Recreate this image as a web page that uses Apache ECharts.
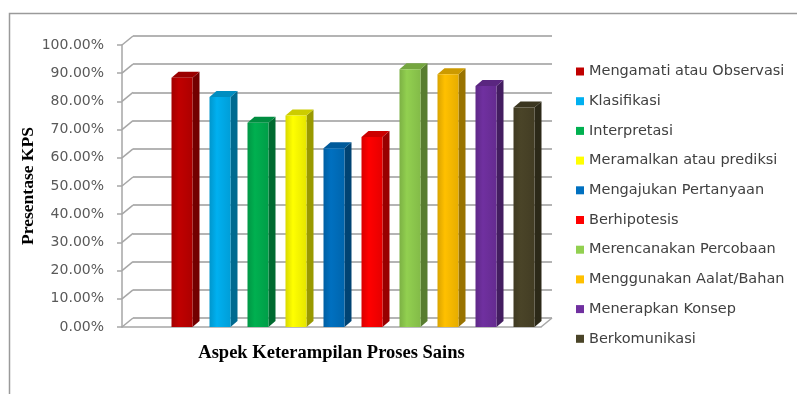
<!DOCTYPE html>
<html>
<head>
<meta charset="utf-8">
<script src="https://cdn.jsdelivr.net/npm/echarts@6/dist/echarts.min.js"></script>
<style>
html,body{margin:0;padding:0;background:#fff;}
#chart{width:797px;height:394px;}
</style>
</head>
<body>
<div id="chart"></div>
<script>
var aspects = ['Mengamati atau Observasi','Klasifikasi','Interpretasi','Meramalkan atau prediksi',
	'Mengajukan Pertanyaan','Berhipotesis','Merencanakan Percobaan','Menggunakan Aalat/Bahan',
	'Menerapkan Konsep','Berkomunikasi'];
var kpsValues = [88.4, 81.6, 72.4, 75.0, 63.4, 67.4, 91.4, 89.6, 85.5, 77.8];
var barColors = ['#c00000','#00b0f0','#00b050','#ffff00','#0070c0','#ff0000','#92d050','#ffc000','#7030a0','#4a4428'];
var yTicks = [0,10,20,30,40,50,60,70,80,90,100];

var DX = 7, DY = 6;      // bar depth
var WX = 11, WY = 9;     // wall depth

function shade(hex, k){
	var n = parseInt(hex.slice(1),16);
	var r = (n>>16)&255, g = (n>>8)&255, b = n&255;
	function f(c){ return Math.max(0,Math.min(255,Math.round(k<1 ? c*k : c+(255-c)*(k-1)))); }
	return 'rgb('+f(r)+','+f(g)+','+f(b)+')';
}

var myChart = echarts.init(document.getElementById('chart'));

var series = [];
aspects.forEach(function(name, i){
	series.push({
		name: name,
		type: 'custom',
		xAxisIndex: 0,
		yAxisIndex: 0,
		itemStyle: {color: barColors[i]},
		encode: {x: 0, y: 1},
		data: [[i, kpsValues[i]]],
		z: 10,
		renderItem: function(params, api){
			var base = api.coord([api.value(0), 0]);
			var top = api.coord([api.value(0), api.value(1)]);
			var w = 21;
			var x0 = base[0] - w/2, x1 = base[0] + w/2;
			var c = barColors[i];
			return {
				type: 'group',
				children: [
					{type:'polygon', shape:{points:[[x1,top[1]],[x1+DX,top[1]-DY],[x1+DX,base[1]-DY],[x1,base[1]]]},
						style:{fill: shade(c,0.6)}},
					{type:'polygon', shape:{points:[[x0,top[1]],[x0+DX,top[1]-DY],[x1+DX,top[1]-DY],[x1,top[1]]]},
						style:{fill: shade(c,0.8)}},
					{type:'rect', shape:{x:x0, y:top[1], width:w, height:base[1]-top[1]},
						style:{fill: new echarts.graphic.LinearGradient(0,0,1,0,[
							{offset:0, color: shade(c,0.85)},
							{offset:0.35, color: c},
							{offset:1, color: shade(c,0.9)}])}}
				]
			};
		}
	});
});

// diagonal connectors from front axis to back wall
series.push({
	type: 'custom',
	name: 'wall',
	xAxisIndex: 1,
	yAxisIndex: 1,
	silent: true,
	z: 1,
	data: yTicks.map(function(v){ return [0, v]; }),
	renderItem: function(params, api){
		var p = api.coord([0, api.value(1)]);
		var children = [{type:'line', shape:{x1:p[0], y1:p[1], x2:p[0]+WX, y2:p[1]-WY},
			style:{stroke:'#a6a6a6', lineWidth:1.5}}];
		if (api.value(1) === 0) {
			var q = api.coord([1, 0]);
			children.push({type:'line', shape:{x1:q[0], y1:q[1], x2:q[0]+WX, y2:q[1]-WY},
				style:{stroke:'#a6a6a6', lineWidth:1.5}});
		}
		return {type:'group', children: children};
	}
});

var option = {
	animation: false,
	color: barColors,
	graphic: [{
		type: 'rect',
		left: 7, top: 11,
		shape: {width: 820, height: 420},
		style: {fill: 'none', stroke: '#9a9a9a', lineWidth: 1.5},
		z: -10
	}],
	legend: {
		orient: 'vertical',
		left: 571,
		top: 58,
		itemWidth: 8,
		itemHeight: 8,
		itemGap: 12.7,
		icon: 'rect',
		data: aspects,
		textStyle: {fontFamily: 'DejaVu Sans', fontSize: 14.5, color: '#404040', lineHeight: 17}
	},
	grid: [
		{left: 163, top: 45, width: 380, height: 282},
		{left: 122, top: 45, width: 419, height: 282},
		{left: 133, top: 36, width: 419, height: 282}
	],
	xAxis: [
		{type: 'category', gridIndex: 0, data: aspects, show: false},
		{type: 'value', gridIndex: 1, min: 0, max: 1,
			name: 'Aspek Keterampilan Proses Sains', nameLocation: 'middle', nameGap: 17,
			nameMoveOverlap: false,
			nameTextStyle: {fontFamily: 'Liberation Serif', fontWeight: 'bold', fontSize: 18.5, color: '#000'},
			axisLine: {show: true, lineStyle: {color: '#a6a6a6', width: 1.5}},
			axisTick: {show: false}, axisLabel: {show: false}, splitLine: {show: false}},
		{type: 'value', gridIndex: 2, min: 0, max: 1, show: false}
	],
	yAxis: [
		{type: 'value', gridIndex: 0, min: 0, max: 100, interval: 10, show: false},
		{type: 'value', gridIndex: 1, min: 0, max: 100, interval: 10,
			name: 'Presentase KPS', nameLocation: 'middle', nameGap: 85, nameRotate: 90,
			nameMoveOverlap: false,
			nameTextStyle: {fontFamily: 'Liberation Serif', fontWeight: 'bold', fontSize: 17.5, color: '#000'},
			axisLine: {show: true, lineStyle: {color: '#a6a6a6', width: 1.5}},
			axisTick: {show: true, length: 5, lineStyle: {color: '#a6a6a6', width: 1.5}},
			axisLabel: {fontFamily: 'DejaVu Sans', fontSize: 14, color: '#595959', margin: 18,
				formatter: function(v){ return v.toFixed(2) + '%'; }},
			splitLine: {show: false}},
		{type: 'value', gridIndex: 2, min: 0, max: 100, interval: 10,
			axisLine: {show: false}, axisTick: {show: false}, axisLabel: {show: false},
			splitLine: {show: true, lineStyle: {color: '#b4b4b4', width: 2}}}
	],
	series: series
};

myChart.setOption(option);
</script>
</body>
</html>
